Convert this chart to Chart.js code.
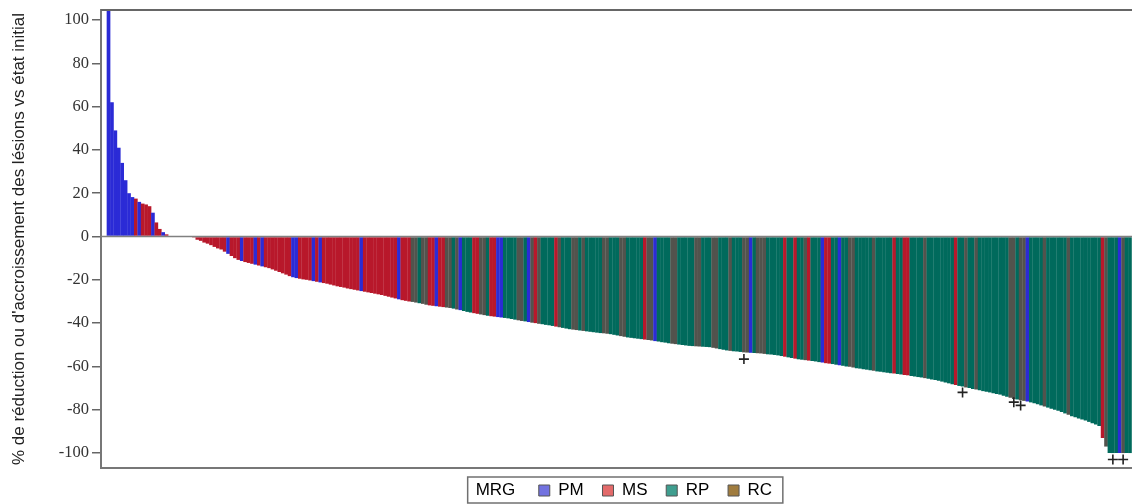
<!DOCTYPE html>
<html><head><meta charset="utf-8">
<script src="https://cdn.jsdelivr.net/npm/chart.js@4.4.1/dist/chart.umd.min.js"></script>
<style>html,body{margin:0;padding:0;background:#fff;}#wrap{width:1132px;height:504px;}</style>
</head><body><div id="wrap"><canvas id="c" width="1132" height="504"></canvas></div>
<script>
// Waterfall: one bar per lesion, sorted by % change
const values = [
 105, 62, 49, 41, 34, 26, 20, 18.2, 17.5, 16,
 15.2, 14.8, 14, 11, 6.5, 3.5, 2, 1, 0, 0,
 0, 0, 0, 0, 0, -0.5, -1.5, -2, -2.8, -3.3,
 -4, -4.8, -5.5, -6, -7, -8, -9, -10, -10.8, -11.3,
 -11.8, -12.2, -12.6, -13, -13.4, -13.8, -14.2, -14.6, -15.2, -15.8,
 -16.4, -17, -17.6, -18.3, -18.8, -19.2, -19.5, -19.8, -20, -20.3,
 -20.6, -20.9, -21.2, -21.5, -21.8, -22.2, -22.6, -23, -23.3, -23.6,
 -24, -24.3, -24.6, -24.9, -25.2, -25.5, -25.8, -26.1, -26.4, -26.7,
 -27, -27.4, -27.8, -28.2, -28.6, -29, -29.4, -29.7, -30, -30.2,
 -30.5, -30.8, -31.1, -31.5, -31.8, -32, -32.2, -32.4, -32.6, -32.8,
 -33, -33.3, -33.7, -34, -34.4, -34.8, -35.1, -35.4, -35.7, -36,
 -36.3, -36.6, -36.8, -37, -37.2, -37.4, -37.6, -37.8, -38.1, -38.4,
 -38.7, -39, -39.2, -39.5, -39.8, -40, -40.3, -40.5, -40.8, -41,
 -41.3, -41.6, -41.9, -42.2, -42.5, -42.8, -43, -43.2, -43.4, -43.6,
 -43.8, -44, -44.2, -44.4, -44.6, -44.7, -44.9, -45.1, -45.4, -45.7,
 -46, -46.3, -46.6, -46.8, -47, -47.2, -47.4, -47.6, -47.8, -48,
 -48.3, -48.5, -48.8, -49, -49.3, -49.5, -49.7, -49.9, -50.1, -50.3,
 -50.5, -50.6, -50.7, -50.8, -50.9, -51, -51.1, -51.4, -51.7, -52,
 -52.3, -52.6, -52.8, -53, -53.1, -53.3, -53.5, -53.6, -53.7, -53.8,
 -53.9, -54, -54.2, -54.4, -54.5, -54.7, -54.9, -55.2, -55.5, -55.8,
 -56.1, -56.4, -56.7, -56.9, -57.1, -57.3, -57.5, -57.7, -58, -58.2,
 -58.5, -58.7, -58.9, -59.2, -59.4, -59.7, -60, -60.2, -60.5, -60.8,
 -61, -61.3, -61.5, -61.8, -62, -62.3, -62.5, -62.7, -62.9, -63.1,
 -63.3, -63.5, -63.7, -63.9, -64.1, -64.4, -64.6, -64.9, -65.1, -65.4,
 -65.7, -66, -66.3, -66.6, -67, -67.4, -67.8, -68.2, -68.6, -69,
 -69.3, -69.7, -70, -70.4, -70.7, -71, -71.4, -71.7, -72, -72.4,
 -72.7, -73, -73.5, -74, -74.5, -75, -75.3, -75.6, -75.9, -76.2,
 -76.6, -77, -77.5, -78, -78.5, -79, -79.5, -80, -80.5, -81,
 -81.7, -82.3, -83, -83.5, -84, -84.5, -85, -85.6, -86.2, -86.8,
 -87.5, -93, -97, -100, -100, -100, -100, -100, -100, -100
];
const groups = [
 'PM','PM','PM','PM','PM','PM','PM','PM','MS','PM',
 'MS','MS','MS','PM','MS','MS','PM','MS','MS','MS',
 'MS','MS','MS','MS','MS','MS','MS','MS','MS','MS',
 'MS','MS','MS','MS','MS','PM','MS','MS','MS','PM',
 'MS','MS','MS','PM','MS','PM','MS','MS','MS','MS',
 'MS','MS','MS','MS','PM','PM','MS','MS','MS','MS',
 'PM','MS','PM','MS','MS','MS','MS','MS','MS','MS',
 'MS','MS','MS','MS','PM','MS','MS','MS','MS','MS',
 'MS','MS','MS','MS','MS','PM','MS','MS','MS','RC',
 'RC','RP','RC','RC','MS','MS','PM','MS','MS','RC',
 'RC','RP','RC','PM','RP','RP','RP','MS','MS','RC',
 'RC','RP','MS','MS','PM','PM','RP','RP','RP','RP',
 'RC','RC','RP','PM','RC','MS','RC','RP','RP','RP',
 'RP','MS','RC','RP','RP','RP','RC','RC','RP','RC',
 'RP','RP','RP','RP','RP','RC','RC','RP','RP','RP',
 'RC','RC','RP','RP','RP','RP','RP','MS','RC','RC',
 'PM','RP','RP','RP','RP','RC','RC','RP','RP','RP',
 'RP','RP','RC','RC','RP','RP','RP','RC','RC','RP',
 'RP','RP','RC','RP','RP','RP','RC','RC','PM','RP',
 'RC','RC','RC','RP','RP','RP','RP','RP','MS','RP',
 'RP','MS','RP','RP','RC','MS','RP','RP','RP','PM',
 'MS','MS','RP','RP','PM','RP','RP','RC','RC','RP',
 'RP','RP','RP','RP','RC','RP','RP','RP','RP','RP',
 'MS','RP','RP','MS','MS','RP','RP','RP','RP','RC',
 'RP','RP','RP','RP','RP','RP','RP','RP','MS','RP',
 'RP','RC','RP','RP','RC','RP','RP','RP','RP','RP',
 'RP','RP','RP','RP','RC','RC','RP','RC','RC','PM',
 'RP','RP','RP','RP','RC','RP','RP','RP','RP','RP',
 'RP','RC','RP','RP','RP','RP','RP','RP','RP','RP',
 'RP','MS','RC','RP','RP','RP','PM','RC','RP','RP'
];
const markerIdx = [186, 250, 265, 267, 294, 297];
const markerVal = [-56.6, -72, -76.5, -78, -103, -103];
const yTicks = [100, 80, 60, 40, 20, 0, -20, -40, -60, -80, -100];
const groupNames = ['PM', 'MS', 'RP', 'RC'];
const legendTitle = 'MRG';
const yTitle = "% de réduction ou d'accroissement des lésions vs état initial";

const barColors = {PM:'#2b2bd6', MS:'#b8182b', RP:'#006a5c', RC:'#52534d'};
const legendColors = {PM:'#7272e0', MS:'#e36a6a', RP:'#3f9e8f', RC:'#a07c3e'};
const SANS = 'Liberation Sans, Arial, sans-serif';
const SERIF = 'Liberation Serif, Times New Roman, serif';

const framePlugin = {
  id: 'frame',
  afterDatasetsDraw(chart) {
    const {ctx, chartArea: a, scales: {y}} = chart;
    ctx.save();
    const y0 = y.getPixelForValue(0);
    ctx.strokeStyle = '#808080'; ctx.lineWidth = 1.5;
    ctx.beginPath(); ctx.moveTo(a.left, y0); ctx.lineTo(a.right, y0); ctx.stroke();
    ctx.strokeStyle = '#666'; ctx.lineWidth = 2;
    ctx.beginPath(); ctx.moveTo(a.left, a.top); ctx.lineTo(a.right, a.top); ctx.stroke();
    ctx.restore();
  },
  afterDraw(chart) {
    const lg = chart.legend;
    const hb = lg && lg.legendHitBoxes;
    if (!hb || !hb.length) return;
    const first = hb[0], last = hb[hb.length - 1];
    const lo = lg.options.labels;
    const left = first.left + lo.boxWidth + lo.font.size / 2 - 8;
    const right = last.left + last.width + 6;
    const top = first.top - 5, bottom = first.top + first.height + 4;
    const ctx = chart.ctx;
    ctx.save();
    ctx.strokeStyle = '#707070'; ctx.lineWidth = 1.5;
    ctx.strokeRect(left, top, right - left, bottom - top);
    ctx.restore();
  }
};

new Chart(document.getElementById('c'), {
  type: 'bar',
  data: {
    datasets: [
      {
        type: 'line', label: 'marker', showLine: false,
        data: markerIdx.map((x, k) => ({x: x, y: markerVal[k]})),
        pointStyle: 'cross', pointRadius: 5, pointBorderWidth: 1.6,
        borderColor: '#222', backgroundColor: '#222', order: 1
      },
      {
        type: 'bar', label: 'bars',
        data: values.map((v, i) => ({x: i, y: v})),
        backgroundColor: groups.map(g => barColors[g]),
        borderWidth: 0, barPercentage: 1.08, categoryPercentage: 1, order: 2
      }
    ]
  },
  options: {
    responsive: false, animation: false,
    layout: {autoPadding: false, padding: {top: 10, right: 0, left: 0, bottom: 0}},
    plugins: {
      tooltip: {enabled: false},
      legend: {
        position: 'bottom', fullSize: false, maxHeight: 36,
        onClick() {},
        labels: {
          boxWidth: 11, boxHeight: 11, padding: 14, color: '#111',
          font: {family: SANS, size: 17},
          generateLabels() {
            const items = [{text: legendTitle + '  ', fillStyle: 'rgba(0,0,0,0)', strokeStyle: 'rgba(0,0,0,0)', lineWidth: 0, hidden: false, datasetIndex: 1}];
            groupNames.forEach(g => items.push({text: g + ' ', fillStyle: legendColors[g], strokeStyle: '#555', lineWidth: 1, hidden: false, datasetIndex: 1}));
            return items;
          }
        }
      }
    },
    scales: {
      x: {
        type: 'linear', min: -2.2, max: 299.6, offset: false,
        ticks: {display: false},
        grid: {display: false, drawTicks: false, offset: false},
        border: {display: true, color: '#777', width: 2},
        afterFit(s) { s.height = 0; s.paddingLeft = 0; s.paddingRight = 0; }
      },
      y: {
        min: -106.9, max: 104.6,
        afterBuildTicks(s) { s.ticks = yTicks.map(v => ({value: v})); },
        afterFit(s) { s.width = 101; s.paddingTop = 0; s.paddingBottom = 0; },
        ticks: {font: {family: SERIF, size: 16.5}, color: '#333', padding: 3, callback: v => String(v)},
        grid: {drawOnChartArea: false, tickLength: 9, color: '#666', lineWidth: 1.5},
        border: {color: '#777', width: 2},
        title: {display: true, text: yTitle, font: {family: SANS, size: 17}, color: '#222', padding: {top: 9, bottom: 0}}
      }
    }
  },
  plugins: [framePlugin]
});
</script>
</body></html>
